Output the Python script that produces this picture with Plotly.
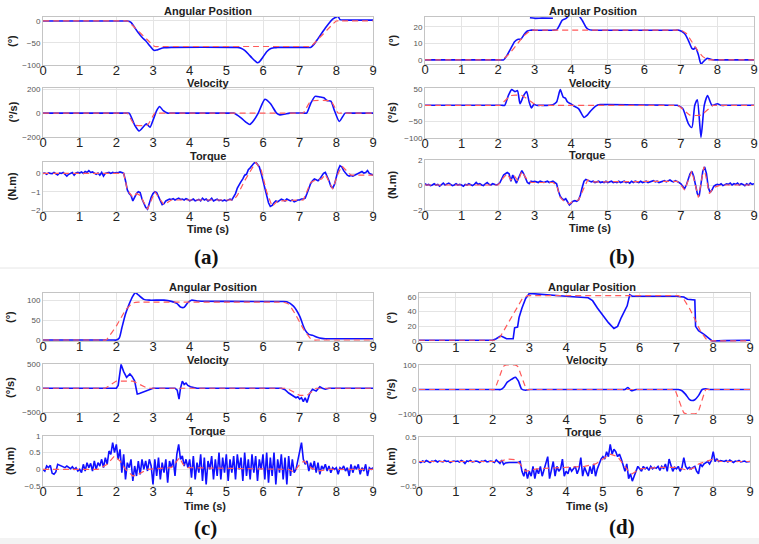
import plotly.graph_objects as go

W, H = 759, 544

# ---------------- (a) ----------------
a_pos_blue_t = [0, 2.2, 2.3, 2.4, 2.5, 2.6, 2.7, 2.8, 2.9, 3.0, 3.05, 3.1, 3.2, 3.3, 3.5, 5.2, 5.3, 5.4, 5.5, 5.6, 5.7, 5.8, 5.85, 5.9, 6.0, 6.1, 6.2, 6.3, 6.4, 6.5, 7.2, 7.3, 7.4, 7.5, 7.6, 7.7, 7.8, 7.9, 8.0, 8.05, 8.1, 8.2, 8.3, 9]
a_pos_blue = [0, 0, 0, -3, -15, -27, -37, -45, -55, -65, -67, -66, -63, -61, -60, -60, -60, -62, -67, -75, -84, -92, -95, -93, -82, -70, -63, -61, -60, -60, -60, -60, -52, -40, -28, -16, -5, 4, 9, 10, 3, 2, 2, 2]
a_pos_ref_t = [0, 2.2, 2.3, 3.05, 3.15, 7.2, 7.3, 8.0, 8.1, 9]
a_pos_ref = [0, 0, 0, -58, -58, -58, -58, 0, 0, 0]

a_vel_blue_t = [0, 2.25, 2.35, 2.5, 2.62, 2.75, 2.82, 2.92, 3.0, 3.1, 3.18, 3.28, 3.4, 3.5, 5.1, 5.2, 5.4, 5.55, 5.64, 5.75, 5.87, 6.05, 6.2, 6.37, 6.46, 6.6, 6.73, 7.12, 7.19, 7.3, 7.42, 7.55, 7.66, 7.74, 7.85, 7.95, 8.08, 8.24, 8.35, 9]
a_vel_blue = [0, 0, 0, -100, -150, -110, -90, -118, -60, 20, 55, 20, 0, 0, 0, 0, -40, -80, -95, -60, 0, 115, 80, 0, -15, -8, 0, 0, 0, 80, 140, 135, 128, 105, 100, 20, -70, 0, 0, 0]
a_vel_ref_t = [0, 2.2, 2.3, 2.5, 2.85, 3.05, 3.15, 7.0, 7.1, 7.3, 7.85, 8.05, 8.15, 9]
a_vel_ref = [0, 0, 0, -100, -100, 0, 0, 0, 0, 100, 100, 0, 0, 0]

a_tq_blue = [
    0.0, 0.02, -0.05, 0.03, 0.0, -0.02, 0.05, 0.0, -0.08, 0.02, 0.0, 0.05, -0.05, -0.15, -0.05, 0.0, 0.05, -0.1, 0.02, 0.05,
    0.02, 0.08, 0.0, 0.1, 0.05, 0.15, 0.05, 0.08, 0.0, -0.05, 0.02, -0.1, 0.05, -0.15, 0.0, 0.02, 0.05, 0.0, 0.05, 0.02,
    0.05, 0.03, 0.08, 0.05, 0.0, -0.4, -0.9, -1.1, -1.2, -1.5, -1.25, -1.1, -1.0, -1.05, -1.4, -1.6, -1.85, -1.95, -1.6, -1.3,
    -1.1, -1.0, -1.05, -1.3, -1.55, -1.7, -1.65, -1.5, -1.45, -1.4, -1.42, -1.38, -1.45, -1.4, -1.35, -1.42, -1.4, -1.45, -1.38, -1.42,
    -1.5, -1.45, -1.4, -1.5, -1.45, -1.42, -1.5, -1.35, -1.45, -1.4, -1.5, -1.45, -1.35, -1.5, -1.45, -1.4, -1.48, -1.45, -1.5, -1.45,
    -1.5, -1.45, -1.4, -1.45, -1.3, -1.1, -0.8, -0.6, -0.45, -0.3, -0.1, -0.05, 0.2, 0.3, 0.45, 0.55, 0.62, 0.5, 0.35, 0.0,
    -0.4, -0.9, -1.3, -1.6, -1.8, -1.75, -1.6, -1.5, -1.55, -1.45, -1.4, -1.45, -1.5, -1.4, -1.45, -1.5, -1.45, -1.55, -1.5, -1.45,
    -1.45, -1.4, -1.4, -1.35, -1.1, -0.8, -0.55, -0.4, -0.3, -0.35, -0.4, -0.3, -0.15, 0.0, 0.05, -0.15, -0.4, -0.7, -0.8, -0.6,
    -0.2, 0.2, 0.42, 0.35, 0.15, 0.0, -0.1, -0.15, -0.12, -0.15, -0.1, -0.05, 0.0, 0.05, 0.1, 0.02, 0.05, 0.15, 0.0, -0.05,
    -0.1]
a_tq_ref_t = [0, 2.2, 2.3, 2.45, 2.55, 2.65, 2.85, 2.95, 3.05, 3.15, 3.3, 3.5, 5.2, 5.3, 5.5, 5.8, 5.95, 6.1, 6.25, 6.4, 7.1, 7.3, 7.45, 7.6, 7.7, 7.9, 8.05, 8.15, 8.4, 9]
a_tq_ref = [0, 0, -0.9, -1.3, -1.1, -1.2, -1.95, -1.5, -1.0, -1.3, -1.7, -1.45, -1.45, -1.2, -0.4, 0.6, 0.2, -1.0, -1.8, -1.5, -1.45, -0.5, -0.35, -0.3, -0.05, -0.85, 0.0, 0.4, -0.1, -0.1]

# ---------------- (b) ----------------
b_pos_blue_t = [0, 2.05, 2.15, 2.25, 2.35, 2.45, 2.55, 2.62, 2.7, 2.8, 2.88, 3.0, 3.5, 3.6, 3.68, 3.75, 3.85, 3.95, 4.05, 4.2, 4.3, 4.4, 4.47, 4.6, 4.7, 6.85, 6.95, 7.1, 7.2, 7.3, 7.35, 7.4, 7.48, 7.55, 7.62, 7.72, 7.8, 7.9, 8.0, 9]
b_pos_blue = [0, 0, 0, 3, 7, 11, 12.5, 12.5, 15, 17.5, 18, 18, 18, 18.2, 21, 24, 25, 27, 28, 27, 24, 20, 18.5, 18, 18, 18, 18, 16, 12, 7, 6.5, 7.5, 3, -2.5, -1, 1, 0.5, 0, 0, 0]
b_pos_extra_t = [2.87, 3.0, 3.2, 3.5]
b_pos_extra = [25.5, 25.2, 25.3, 25.2]
b_pos_ref_t = [0, 2.0, 2.1, 2.3, 2.5, 2.7, 2.9, 3.0, 6.9, 7.0, 7.15, 7.3, 7.45, 7.6, 7.75, 7.85, 9]
b_pos_ref = [0, 0, 0, 3.5, 9, 14.5, 18, 18, 18, 18, 16, 11, 6, 2, 0, 0, 0]

b_vel_blue_t = [0, 2.1, 2.18, 2.28, 2.37, 2.46, 2.53, 2.6, 2.7, 2.78, 2.85, 2.91, 2.98, 3.05, 3.15, 3.4, 3.5, 3.6, 3.7, 3.78, 3.84, 3.9, 3.98, 4.07, 4.2, 4.35, 4.44, 4.55, 4.71, 4.8, 6.8, 6.9, 7.05, 7.2, 7.3, 7.38, 7.45, 7.55, 7.64, 7.73, 7.85, 8.0, 8.1, 8.2, 9]
b_vel_blue = [0, 0, 0, 30, 48, 42, 45, 5, 30, 42, 10, -8, 3, 0, 0, 0, 2, 10, 48, 25, 22, 10, 5, -2, -10, -37, -30, -15, 0, 2, 0, 0, -10, -55, -68, 0, 17, -98, 0, 30, 0, 5, 0, 0, 0]
b_vel_ref_t = [0, 1.95, 2.05, 2.35, 2.65, 3.05, 3.15, 6.82, 6.92, 7.25, 7.55, 7.88, 7.98, 9]
b_vel_ref = [0, 0, 0, 30, 30, 0, 0, 0, 0, -30, -30, 0, 0, 0]

b_tq_blue = [
    0.1, 0.0, 0.05, -0.05, 0.0, 0.1, 0.0, 0.05, -0.1, 0.05, 0.15, 0.0, 0.05, 0.15, 0.05, -0.05, 0.0, 0.1, 0.0, 0.05,
    0.0, -0.1, 0.05, 0.0, 0.1, 0.0, -0.05, 0.05, 0.2, 0.05, 0.1, 0.0, -0.05, 0.1, 0.2, 0.05, 0.0, 0.1, 0.05, 0.0,
    0.05, 0.2, 0.5, 0.8, 0.9, 1.0, 0.9, 0.3, 0.8, 0.4, 0.15, 0.5, 0.9, 1.15, 0.9, 0.5, 0.2, 0.1, 0.3, 0.25,
    0.3, 0.25, 0.2, 0.3, 0.25, 0.2, 0.25, 0.3, 0.2, 0.25, 0.3, 0.2, 0.1, -0.5, -0.9, -1.1, -1.2, -1.1, -1.4, -1.6,
    -1.45, -1.3, -1.25, -1.3, -1.2, -0.8, -0.2, 0.3, 0.45, 0.4, 0.3, 0.25, 0.3, 0.2, 0.25, 0.3, 0.2, 0.25, 0.2, 0.3,
    0.2, 0.25, 0.3, 0.2, 0.25, 0.2, 0.3, 0.2, 0.25, 0.3, 0.2, 0.25, 0.15, 0.3, 0.2, 0.3, 0.25, 0.2, 0.3, 0.2,
    0.25, 0.3, 0.2, 0.25, 0.3, 0.35, 0.25, 0.3, 0.2, 0.25, 0.3, 0.35, 0.25, 0.3, 0.4, 0.3, 0.25, 0.35, 0.3, 0.2,
    0.1, -0.1, -0.3, 0.0, 0.5, 0.9, 1.1, 0.7, 0.0, -0.7, -0.9, 0.0, 1.1, 1.45, 0.9, -0.2, -0.6, -0.4, -0.1, 0.0,
    0.05, 0.0, 0.1, -0.05, 0.0, 0.1, 0.05, 0.15, 0.0, 0.1, 0.05, 0.15, 0.0, 0.1, 0.05, -0.05, 0.1, 0.0, 0.15, 0.05,
    0.1]
b_tq_ref_t = [0, 2.0, 2.15, 2.25, 2.35, 2.45, 2.55, 2.65, 2.75, 2.9, 3.5, 3.6, 3.7, 3.8, 3.95, 4.05, 4.2, 4.3, 4.45, 4.6, 6.9, 7.0, 7.1, 7.3, 7.48, 7.63, 7.78, 7.9, 8.1, 9]
b_tq_ref = [0, 0, 0.6, 0.9, 0.4, 0.7, 0.3, 1.1, 0.6, 0.2, 0.2, 0.0, -1.0, -1.3, -1.5, -1.3, -1.2, -0.5, 0.4, 0.25, 0.3, 0.0, -0.4, 1.1, -1.0, 1.45, -0.7, -0.2, 0.0, 0.0]

# ---------------- (c) ----------------
c_pos_blue_t = [0, 1.9, 2.0, 2.08, 2.15, 2.25, 2.35, 2.45, 2.52, 2.6, 2.75, 2.9, 3.3, 3.5, 3.65, 3.75, 3.85, 3.95, 4.05, 4.2, 5.0, 6.5, 6.65, 6.83, 7.0, 7.08, 7.15, 7.25, 7.35, 7.5, 7.6, 7.7, 7.8, 9]
c_pos_blue = [0, 0, 0, 5, 30, 65, 90, 110, 119, 113, 102, 100, 100, 97, 92, 83, 82, 94, 100, 98, 97, 96.5, 96, 85, 60, 40, 25, 14, 12, 6, 4, 3, 3, 3]
c_pos_ref_t = [0, 1.62, 1.72, 2.0, 2.25, 2.45, 2.6, 2.7, 6.45, 6.55, 6.7, 6.9, 7.1, 7.3, 7.4, 7.5, 9]
c_pos_ref = [0, 0, 0, 35, 75, 93, 95, 95, 95, 95, 90, 62, 28, 3, 0, 0, 0]

c_vel_blue_t = [0, 2.0, 2.05, 2.1, 2.13, 2.2, 2.28, 2.37, 2.43, 2.5, 2.57, 2.63, 2.7, 2.83, 3.0, 3.6, 3.66, 3.71, 3.75, 3.8, 3.85, 3.9, 3.95, 4.02, 4.1, 4.2, 6.5, 6.6, 6.7, 6.8, 6.9, 6.95, 7.0, 7.05, 7.1, 7.15, 7.2, 7.27, 7.35, 7.45, 7.55, 7.62, 7.7, 7.8, 9]
c_vel_blue = [0, 0, 60, 400, 500, 350, 230, 300, 250, 150, -120, -110, -90, -40, 0, 0, -40, -230, 0, 150, 80, 110, 60, 30, 10, 0, 0, -30, -100, -150, -200, -180, -230, -200, -280, -200, -300, -120, -20, -60, 30, 0, -20, 0, 0]
c_vel_ref_t = [0, 1.7, 2.0, 2.45, 2.85, 6.65, 7.0, 7.2, 7.45, 9]
c_vel_ref = [0, 0, 150, 150, 0, 0, -150, -150, 0, 0]

c_tq_blue = [
    0.0, -0.05, 0.1, 0.05, 0.12, -0.12, -0.15, -0.08, 0.15, 0.12, 0.1, 0.08, 0.05, 0.1, 0.06, 0.02, 0.08, 0.0, 0.05, -0.05,
    0.0, -0.1, 0.15, -0.05, 0.2, 0.05, 0.18, -0.05, 0.25, 0.0, 0.2, 0.1, 0.3, 0.05, 0.35, 0.15, 0.55, 0.45, 0.8, 0.5,
    0.75, 0.3, 0.6, -0.1, 0.45, -0.3, 0.2, 0.05, 0.3, -0.35, 0.1, -0.2, 0.25, -0.15, 0.3, 0.0, 0.25, -0.05, 0.3, 0.1,
    -0.45, 0.3, -0.2, 0.35, -0.3, 0.2, -0.1, 0.3, -0.4, 0.25, 0.05, 0.3, -0.2, 0.45, 0.75, 0.3, 0.4, 0.1, 0.3, 0.05,
    0.3, -0.25, 0.4, -0.3, 0.2, -0.1, 0.45, -0.35, 0.35, -0.45, 0.25, 0.0, 0.4, -0.3, 0.3, -0.2, 0.5, -0.3, 0.35, -0.1,
    0.45, -0.35, 0.3, -0.1, 0.4, -0.3, 0.45, 0.0, 0.35, -0.35, 0.5, -0.2, 0.3, -0.3, 0.45, -0.1, 0.4, -0.35, 0.3, 0.0,
    0.45, -0.3, 0.5, -0.4, 0.35, -0.2, 0.5, -0.45, 0.3, -0.1, 0.45, -0.3, 0.35, -0.45, 0.4, -0.2, 0.3, -0.1, 0.0, 0.25,
    0.5, 0.8, 0.3, 0.15, 0.25, -0.05, 0.2, 0.0, 0.25, -0.1, 0.2, -0.15, 0.1, 0.0, 0.15, -0.05, 0.1, -0.1, 0.05, 0.0,
    0.05, -0.15, 0.05, 0.0, 0.1, -0.05, 0.05, -0.2, 0.15, -0.1, 0.1, 0.0, 0.15, -0.15, 0.05, -0.05, 0.15, -0.2, 0.05, 0.0,
    0.05]
c_tq_ref_t = [0, 1.5, 1.75, 1.95, 2.1, 2.25, 2.45, 2.6, 2.85, 3.5, 3.62, 3.72, 3.82, 3.95, 6.7, 6.85, 7.0, 7.12, 7.3, 7.5, 7.8, 9]
c_tq_ref = [0, 0, 0.15, 0.4, 0.25, 0.0, -0.2, -0.15, 0.0, 0.05, 0.2, 0.35, 0.15, 0.05, 0.0, -0.08, 0.15, 0.25, 0.05, -0.05, 0.0, 0.0]

# ---------------- (d) ----------------
d_pos_blue_t = [0, 2.0, 2.1, 2.22, 2.3, 2.38, 2.56, 2.6, 2.68, 2.72, 2.8, 2.9, 3.0, 3.4, 4.0, 4.6, 4.72, 4.85, 5.0, 5.15, 5.3, 5.4, 5.5, 5.6, 5.66, 5.73, 5.8, 7.0, 7.2, 7.3, 7.5, 7.52, 7.6, 7.75, 7.9, 7.97, 8.3, 9]
d_pos_blue = [1, 1, 3, 7, 5, 3, 3, 18, 19, 32, 45, 58, 65, 63, 61, 59, 55, 45, 35, 25, 17, 20, 32, 43, 48, 63, 61, 61, 60, 57, 56, 20, 14, 9, 3, 0, 0.5, 1]
d_pos_ref_t = [0, 2.05, 2.2, 2.35, 2.5, 2.65, 2.8, 2.95, 7.05, 7.2, 7.35, 7.5, 7.65, 7.8, 7.9, 9]
d_pos_ref = [1, 1, 5, 18, 32, 46, 57, 62, 62, 57, 45, 30, 14, 3, 0, 0]

d_vel_blue_t = [0, 2.12, 2.22, 2.3, 2.4, 2.48, 2.55, 2.62, 2.7, 2.79, 2.9, 3.0, 3.1, 5.5, 5.6, 5.68, 5.75, 5.8, 5.9, 6.0, 6.95, 7.05, 7.15, 7.25, 7.35, 7.42, 7.5, 7.6, 7.7, 7.8, 7.9, 8.0, 9]
d_vel_blue = [0, 0, 0, 8, 30, 38, 45, 50, 35, 2, -3, 0, 0, 0, 0, 8, -2, -5, 0, 0, 0, 0, -5, -20, -40, -45, -42, -25, 0, 3, 0, 0, 0]
d_vel_ref_t = [0, 1.95, 2.05, 2.3, 2.38, 2.6, 2.68, 2.93, 3.03, 6.85, 6.95, 7.2, 7.28, 7.5, 7.58, 7.8, 7.9, 9]
d_vel_ref = [0, 0, 0, 95, 100, 100, 95, 0, 0, 0, 0, -95, -99, -99, -95, 0, 0, 0]

d_tq_blue = [
    0.0, -0.02, 0.01, -0.01, 0.02, 0.0, -0.02, 0.01, 0.0, 0.02, -0.01, 0.01, 0.0, -0.01, 0.02, 0.0, 0.01, -0.02, 0.0, 0.01,
    0.0, 0.01, -0.01, 0.02, 0.0, -0.04, 0.01, 0.0, 0.02, -0.01, 0.0, 0.01, 0.0, -0.02, 0.01, 0.0, 0.02, -0.01, 0.0, 0.01,
    0.0, -0.02, 0.03, 0.0, -0.04, 0.03, -0.06, -0.03, -0.02, -0.02, -0.02, -0.02, -0.02, -0.02, -0.02, 0.0, -0.2, -0.3, -0.15, -0.35,
    -0.2, -0.3, -0.1, -0.35, -0.15, -0.25, -0.1, -0.3, -0.15, -0.05, 0.1, -0.35, -0.15, 0.0, -0.3, -0.1, -0.2, -0.15, 0.05, -0.3,
    -0.2, -0.25, -0.12, -0.2, -0.15, -0.1, -0.25, -0.15, 0.08, -0.3, -0.12, -0.2, -0.3, -0.1, -0.25, -0.05, -0.3, -0.15, -0.05, 0.05,
    0.1, 0.05, 0.2, 0.1, 0.35, 0.15, 0.25, 0.2, 0.1, 0.15, 0.05, -0.1, -0.2, -0.05, -0.35, -0.25, -0.4, -0.3, -0.2, -0.1,
    -0.15, -0.2, -0.1, -0.15, -0.12, -0.18, -0.1, -0.15, -0.12, -0.14, -0.1, -0.18, -0.1, -0.15, -0.05, -0.2, 0.05, -0.1, -0.2, -0.12,
    -0.15, -0.1, -0.2, -0.12, 0.08, -0.1, -0.15, -0.12, -0.15, -0.12, -0.1, -0.2, -0.25, -0.05, -0.1, -0.05, -0.02, 0.0, -0.05, 0.02,
    0.2, 0.0, 0.05, 0.0, 0.02, 0.01, 0.0, 0.02, -0.01, 0.03, 0.0, -0.02, 0.01, 0.0, 0.02, -0.01, 0.0, 0.01, -0.01, 0.0,
    0.0]
d_tq_ref_t = [0, 2.2, 2.4, 2.6, 2.75, 2.9, 3.2, 4.0, 4.5, 4.8, 5.0, 5.2, 5.4, 5.55, 5.7, 5.8, 6.0, 6.5, 7.0, 7.3, 7.5, 7.6, 7.8, 8.0, 8.2, 9]
d_tq_ref = [0, 0, 0.05, 0.04, -0.05, -0.2, -0.15, -0.12, -0.1, -0.05, 0.05, 0.15, 0.1, -0.05, -0.2, -0.25, -0.15, -0.12, -0.12, -0.18, -0.12, -0.05, 0, 0.05, 0, 0]

x_ticks = [0, 1, 2, 3, 4, 5, 6, 7, 8, 9]
panel_labels = ["(a)", "(b)", "(c)", "(d)"]
sub_titles = ["Angular Position", "Velocity", "Torque"]
y_titles = ["(°)", "(°/s)", "(N.m)"]
x_title = "Time (s)"


def grid_t(vals):
    return [round(i * 0.05, 2) for i in range(len(vals))]


# axis geometry in pixels: (left, right, top, bottom), y range, y ticks
axes_spec = [
    ((43, 373, 17, 65), [-100, 9], [-100, -50, 0]),
    ((43, 373, 88, 137), [-200, 210], [-200, 0, 200]),
    ((43, 373, 162, 211), [-2.05, 0.62], [-2, -1, 0]),
    ((425, 754, 17, 64), [-2.5, 26], [0, 10, 20]),
    ((425, 754, 88, 138), [-100, 53], [-100, -50, 0, 50]),
    ((425, 754, 160, 210), [-2, 2], [-2, 0, 2]),
    ((43, 373, 293, 341), [-2.5, 118], [0, 50, 100]),
    ((43, 373, 364, 412), [-500, 510], [-500, 0, 500]),
    ((43, 373, 436, 486), [-0.5, 1], [-0.5, 0, 0.5, 1]),
    ((419, 750, 293, 342), [-1.4, 65.5], [0, 20, 40, 60]),
    ((419, 750, 365, 414), [-100, 100], [-100, 0, 100]),
    ((419, 750, 437, 486), [-0.5, 0.5], [-0.5, 0, 0.5]),
]

series = [
    ([(a_pos_blue_t, a_pos_blue)], (a_pos_ref_t, a_pos_ref), "spline"),
    ([(a_vel_blue_t, a_vel_blue)], (a_vel_ref_t, a_vel_ref), "spline"),
    ([(grid_t(a_tq_blue), a_tq_blue)], (a_tq_ref_t, a_tq_ref), "linear"),
    ([(b_pos_blue_t, b_pos_blue), (b_pos_extra_t, b_pos_extra)], (b_pos_ref_t, b_pos_ref), "spline"),
    ([(b_vel_blue_t, b_vel_blue)], (b_vel_ref_t, b_vel_ref), "spline"),
    ([(grid_t(b_tq_blue), b_tq_blue)], (b_tq_ref_t, b_tq_ref), "linear"),
    ([(c_pos_blue_t, c_pos_blue)], (c_pos_ref_t, c_pos_ref), "spline"),
    ([(c_vel_blue_t, c_vel_blue)], (c_vel_ref_t, c_vel_ref), "linear"),
    ([(grid_t(c_tq_blue), c_tq_blue)], (c_tq_ref_t, c_tq_ref), "linear"),
    ([(d_pos_blue_t, d_pos_blue)], (d_pos_ref_t, d_pos_ref), "linear"),
    ([(d_vel_blue_t, d_vel_blue)], (d_vel_ref_t, d_vel_ref), "spline"),
    ([(grid_t(d_tq_blue), d_tq_blue)], (d_tq_ref_t, d_tq_ref), "linear"),
]

fig = go.Figure()
layout = dict(width=W, height=H, margin=dict(l=0, r=0, t=0, b=0, autoexpand=False),
              paper_bgcolor="white", plot_bgcolor="white", showlegend=False)

GRID = "#e4e4e4"
FRAME = "#c4c4c4"

for i, ((l, r, t, b), yr, yt) in enumerate(axes_spec):
    n = i + 1
    xa = "xaxis" if n == 1 else f"xaxis{n}"
    ya = "yaxis" if n == 1 else f"yaxis{n}"
    xr = "x" if n == 1 else f"x{n}"
    yr_ = "y" if n == 1 else f"y{n}"
    layout[xa] = dict(domain=[l / W, r / W], range=[0, 9], tickvals=x_ticks, anchor=yr_,
                      automargin=False, ticklabelstandoff=-7,
                      showgrid=True, gridcolor=GRID, gridwidth=1, zeroline=False,
                      showline=True, linecolor=FRAME, mirror=True, ticks="",
                      tickfont=dict(family="Liberation Sans, Arial", size=13, color="#222"))
    layout[ya] = dict(domain=[1 - b / H, 1 - t / H], range=yr, tickvals=yt, anchor=xr,
                      automargin=False,
                      showgrid=True, gridcolor=GRID, gridwidth=1, zeroline=False,
                      showline=True, linecolor=FRAME, mirror=True, ticks="",
                      tickfont=dict(family="Liberation Sans, Arial", size=8, color="#555"))
    blues, ref, shape = series[i]
    for bt, bv in blues:
        fig.add_trace(go.Scatter(x=bt, y=bv, mode="lines", xaxis=xr, yaxis=yr_,
                                 line=dict(color="#1010ff", width=1.6, shape=shape,
                                           **({"smoothing": 0.6} if shape == "spline" else {}))))
    fig.add_trace(go.Scatter(x=ref[0], y=ref[1], mode="lines", xaxis=xr, yaxis=yr_,
                             line=dict(color="#ff5a5a", width=1.2, dash="6px,4px",
                                       shape="spline" if shape == "spline" else "linear",
                                       **({"smoothing": 0.4} if shape == "spline" else {}))))

anns = []


def txt(x, y, s, size=11, bold=True, family="Liberation Sans, Arial", angle=0, color="#222"):
    anns.append(dict(x=x / W, y=1 - y / H, xref="paper", yref="paper", text=f"<b>{s}</b>" if bold else s,
                     showarrow=False, xanchor="center", yanchor="middle", textangle=angle,
                     font=dict(family=family, size=size, color=color)))


# subplot titles
title_pos = [
    [(208, 11), (208, 83), (208, 156)],
    [(593, 11), (590, 83), (587, 155)],
    [(213, 287), (208, 360), (207, 431)],
    [(592, 287), (587, 360), (583, 432)],
]
ytitle_x = [12, 392, 10, 390]
time_pos = [(208, 229), (590, 228), (205, 506), (587, 506)]
label_pos = [(207, 257), (622, 257), (205, 528), (622, 527)]

for p in range(4):
    for k in range(3):
        (l, r, t, b), _, _ = axes_spec[p * 3 + k]
        tx, ty = title_pos[p][k]
        txt(tx, ty, sub_titles[k], size=11)
        txt(ytitle_x[p], (t + b) / 2, y_titles[k], size=11, angle=-90)
    txt(time_pos[p][0], time_pos[p][1], x_title, size=11)
    txt(label_pos[p][0], label_pos[p][1], panel_labels[p], size=21, family="Liberation Serif, serif", color="#111")

layout["annotations"] = anns
layout["shapes"] = [
    dict(type="line", xref="paper", yref="paper", x0=0, x1=1, y0=1 - 268 / H, y1=1 - 268 / H,
         line=dict(color="#e6e6e6", width=1)),
    dict(type="rect", xref="paper", yref="paper", x0=0, x1=1, y0=0, y1=1 - 538 / H,
         fillcolor="#f3f3f3", line=dict(width=0), layer="below"),
]
fig.update_layout(**layout)
fig.write_html("out.html", config={"displayModeBar": False},
               post_script="document.body.style.margin='0px';document.body.style.overflow='hidden';")
